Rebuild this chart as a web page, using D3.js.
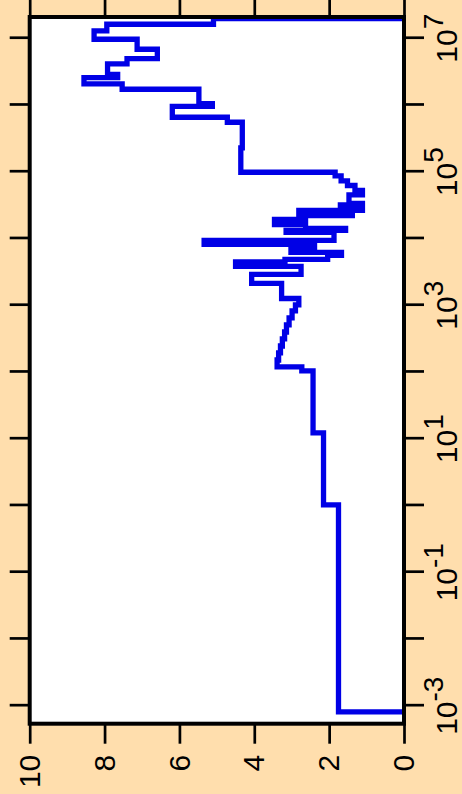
<!DOCTYPE html>
<html>
<head>
<meta charset="utf-8">
<script src="https://cdn.jsdelivr.net/npm/d3@7"></script>
<style>
  body { margin: 0; background: #FFDEAD; }
  svg { display: block; }
  text { font-family: "Liberation Sans", Arial, sans-serif; }
</style>
</head>
<body>
<script>
// step function: each level holds from the previous break up to its own break
const xBreaks = [8.05e-4, 1.02, 12.2, 104, 119, 151, 193, 245, 312, 397, 506, 644, 820,
  1.01e3, 1.26e3, 2.12e3, 2.89e3, 3.81e3, 4.45e3, 4.85e3, 5.57e3, 6.17e3, 7.21e3, 8.13e3, 9.33e3,
  1.23e4, 1.32e4, 1.41e4, 1.62e4, 1.93e4, 2.21e4, 2.29e4, 2.63e4, 2.72e4, 3.18e4, 3.35e4,
  4.49e4, 5.24e4, 6.22e4, 7.28e4, 8.65e4, 9.82e4, 2.27e5, 5.51e5, 6.55e5, 9.51e5,
  1.05e6, 1.72e6, 2.07e6, 2.57e6, 2.87e6, 4.12e6, 4.94e6, 6.84e6, 9.66e6,
  1.29e7, 1.62e7, 1.97e7, 1.97e7];
const levels = [0, 1.75, 2.15, 2.43, 2.73, 3.39, 3.35, 3.30, 3.25, 3.19, 3.14, 3.07, 2.99,
  2.90, 2.81, 3.27, 4.07, 2.75, 4.50, 3.18, 2.04, 1.67, 3.02, 2.39, 5.34,
  1.87, 3.15, 1.56, 2.63, 3.46, 2.63, 1.38, 2.81, 1.11, 1.70, 1.11,
  1.47, 1.11, 1.31, 1.51, 1.68, 1.84, 4.36, 4.32, 4.72, 6.19,
  5.12, 5.48, 7.53, 8.55, 7.65, 7.92, 7.40, 6.59, 7.13,
  8.28, 7.94, 5.09, 0];

const valueTicks = [0, 2, 4, 6, 8, 10];
const decades = [-3, -2, -1, 0, 1, 2, 3, 4, 5, 6, 7];
const labelledDecades = [-3, -1, 1, 3, 5, 7];

const W = 462, H = 794;
const svg = d3.select('body').append('svg').attr('width', W).attr('height', H);
svg.append('rect').attr('width', W).attr('height', H).attr('fill', '#FFDEAD');

// drawn as an ordinary plot, then turned a quarter turn anticlockwise
const g = svg.append('g').attr('transform', `translate(0,${H}) rotate(-90)`);

const x = d3.scaleLog().domain([5.37e-4, 2.08e7]).range([70.3, 777]);
const y = d3.scaleLinear().domain([0, 10]).range([404, 29.7]);

g.append('rect')
  .attr('x', x.range()[0]).attr('y', y(10))
  .attr('width', x.range()[1] - x.range()[0]).attr('height', y(0) - y(10))
  .attr('fill', '#fff');

const data = xBreaks.map((d, i) => [d, levels[i]]);

const line = d3.line()
  .x(d => x(d[0]))
  .y(d => y(d[1]))
  .curve(d3.curveStepBefore);

g.append('path')
  .datum(data)
  .attr('d', line)
  .attr('fill', 'none')
  .attr('stroke', '#0000e6')
  .attr('stroke-width', 5.3)
  .attr('stroke-linejoin', 'miter');

const decadeVals = decades.map(e => Math.pow(10, e));

function styleAxis(sel) {
  sel.select('.domain').remove();
  sel.selectAll('.tick line').attr('stroke', '#000').attr('stroke-width', 2.7);
}

// log axis (right on screen) with labels
g.append('g').attr('transform', `translate(0,${y(0)})`)
  .call(d3.axisBottom(x).tickValues(decadeVals).tickSize(20).tickSizeOuter(0).tickFormat(''))
  .call(styleAxis);

// log axis on the opposite side, ticks only
g.append('g').attr('transform', `translate(0,${y(10)})`)
  .call(d3.axisTop(x).tickValues(decadeVals).tickSize(20).tickSizeOuter(0).tickFormat(''))
  .call(styleAxis);

// value axis (bottom on screen)
g.append('g').attr('transform', `translate(${x.range()[0]},0)`)
  .call(d3.axisLeft(y).tickValues(valueTicks).tickSize(20).tickSizeOuter(0).tickPadding(11))
  .call(styleAxis)
  .call(a => a.selectAll('text').attr('font-size', 30).attr('fill', '#000')
    .attr('font-family', '"Liberation Sans", Arial, sans-serif'));

g.append('g').attr('transform', `translate(${x.range()[1]},0)`)
  .call(d3.axisRight(y).tickValues(valueTicks).tickSize(20).tickSizeOuter(0).tickFormat(''))
  .call(styleAxis);

labelledDecades.forEach(e => {
  const t = g.append('text')
    .attr('x', x(Math.pow(10, e)))
    .attr('y', 457)
    .attr('text-anchor', 'middle')
    .attr('font-size', 30)
    .attr('fill', '#000');
  t.append('tspan').text('10');
  t.append('tspan').attr('dy', -14).attr('font-size', 28).text(e < 0 ? '-' + (-e) : e);
});

// box
g.append('rect')
  .attr('x', x.range()[0]).attr('y', y(10))
  .attr('width', x.range()[1] - x.range()[0]).attr('height', y(0) - y(10))
  .attr('fill', 'none')
  .attr('stroke', '#000')
  .attr('stroke-width', 4);
</script>
</body>
</html>
